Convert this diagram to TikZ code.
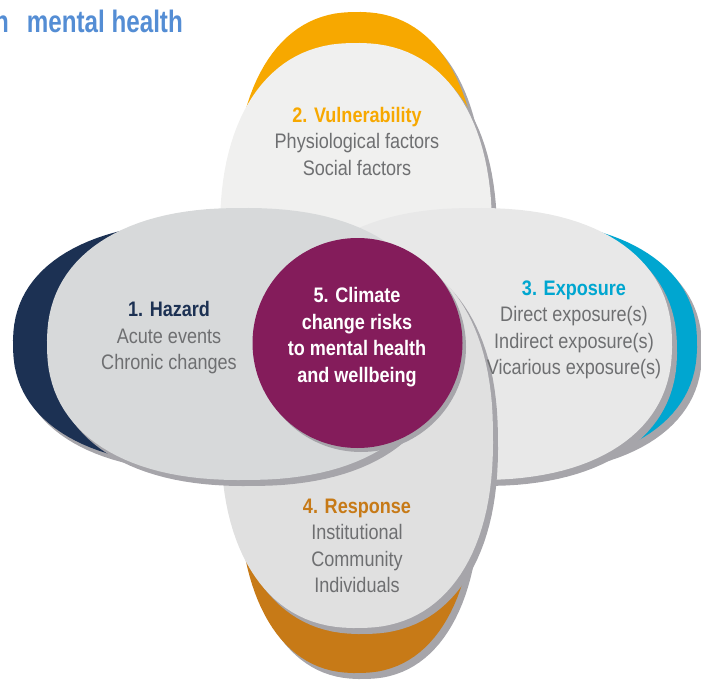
\documentclass[tikz,border=0pt]{standalone}
\usepackage{fontspec}
\setmainfont{Liberation Sans}[FakeStretch=0.86]
\newfontfamily\titlefont{Liberation Sans}[FakeStretch=0.78]
\usepackage{tikz}
\definecolor{titleblue}{RGB}{84,141,212}
\definecolor{vulnorange}{RGB}{247,168,0}
\definecolor{hazardnavy}{RGB}{28,49,83}
\definecolor{exposurecyan}{RGB}{0,166,208}
\definecolor{responseorange}{RGB}{199,122,23}
\definecolor{riskpurple}{RGB}{132,28,91}
\definecolor{labelgray}{RGB}{110,111,113}
\definecolor{shadowgray}{RGB}{166,165,170}
\definecolor{vulnfill}{RGB}{240,240,239}
\definecolor{hazardfill}{RGB}{215,217,218}
\definecolor{exposurefill}{RGB}{232,232,232}
\definecolor{responsefill}{RGB}{224,224,224}
% rounded petal: centre x, centre y, half width, half height
\def\petal(#1,#2,#3,#4){plot[domain=1:361,samples=121]({#1+#3*sign(cos(\x))*abs(cos(\x))^0.87},{#2+#4*sign(sin(\x))*abs(sin(\x))^0.87}) -- cycle}

\begin{document}
\begin{tikzpicture}[
	  x=1pt, y=-1pt,
	  shadow_style/.style={
	  	fill=shadowgray,
	  	shift={(5,6)}
	  },
	  text_style/.style={
	  	align=center,
	  	inner sep=0pt,
	  	text=labelgray,
	  	font=\fontsize{21}{26.5}\selectfont
	  },
	  core_style/.style={
	  	align=center,
	  	inner sep=0pt,
	  	text=white,
	  	font=\fontsize{21}{26.5}\selectfont\bfseries
	  }]
	\useasboundingbox (0,0) rectangle (701,685);
	% Title
	\node[anchor=base east, inner sep=0pt, text=titleblue, font=\titlefont\fontsize{31}{36}\selectfont\bfseries] (title) at (183,33) {n\hspace{18pt}mental health};
	% 2. Vulnerability (top)
	\fill[shadow_style] \petal(357,202,122,190);
	\fill[vulnorange] \petal(357,202,122,190);
	\fill[shadow_style] \petal(356,233,136,190);
	\fill[vulnfill] \petal(356,233,136,190);
	% 3. Exposure (right)
	\fill[shadow_style] \petal(501,344,196,124);
	\fill[exposurecyan] \petal(501,344,196,124);
	\fill[shadow_style] \petal(476,344,196,136);
	\fill[exposurefill] \petal(476,344,196,136);
	% 4. Response (bottom)
	\fill[shadow_style] \petal(357,483,118,190);
	\fill[responseorange] \petal(357,483,118,190);
	\fill[shadow_style] \petal(357,438,136,190);
	\fill[responsefill] \petal(357,438,136,190);
	% 1. Hazard (left)
	\fill[shadow_style] \petal(209,344,196,122);
	\fill[hazardnavy] \petal(209,344,196,122);
	\fill[shadow_style] \petal(243,344,196,136);
	\fill[hazardfill] \petal(243,344,196,136);
	% 5. Climate change risks (centre)
	\fill[shadowgray] (361,347) circle (105);
	\fill[riskpurple] (357.5,343) circle (105);
	% Labels
	\node[text_style] (vulnerability) at (357,141) {{\bfseries\color{vulnorange}2. Vulnerability}\\Physiological factors\\Social factors};
	\node[text_style] (hazard) at (169,338) {{\bfseries\color{hazardnavy}1. Hazard}\\Acute events\\Chronic changes};
	\node[text_style] (exposure) at (574,330) {{\bfseries\color{exposurecyan}3. Exposure}\\Direct exposure(s)\\Indirect exposure(s)\\Vicarious exposure(s)};
	\node[text_style] (response) at (357,546) {{\bfseries\color{responseorange}4. Response}\\Institutional\\Community\\Individuals};
	\node[core_style] (risks) at (357,337) {5. Climate\\change risks\\to mental health\\and wellbeing};
\end{tikzpicture}
\end{document}
